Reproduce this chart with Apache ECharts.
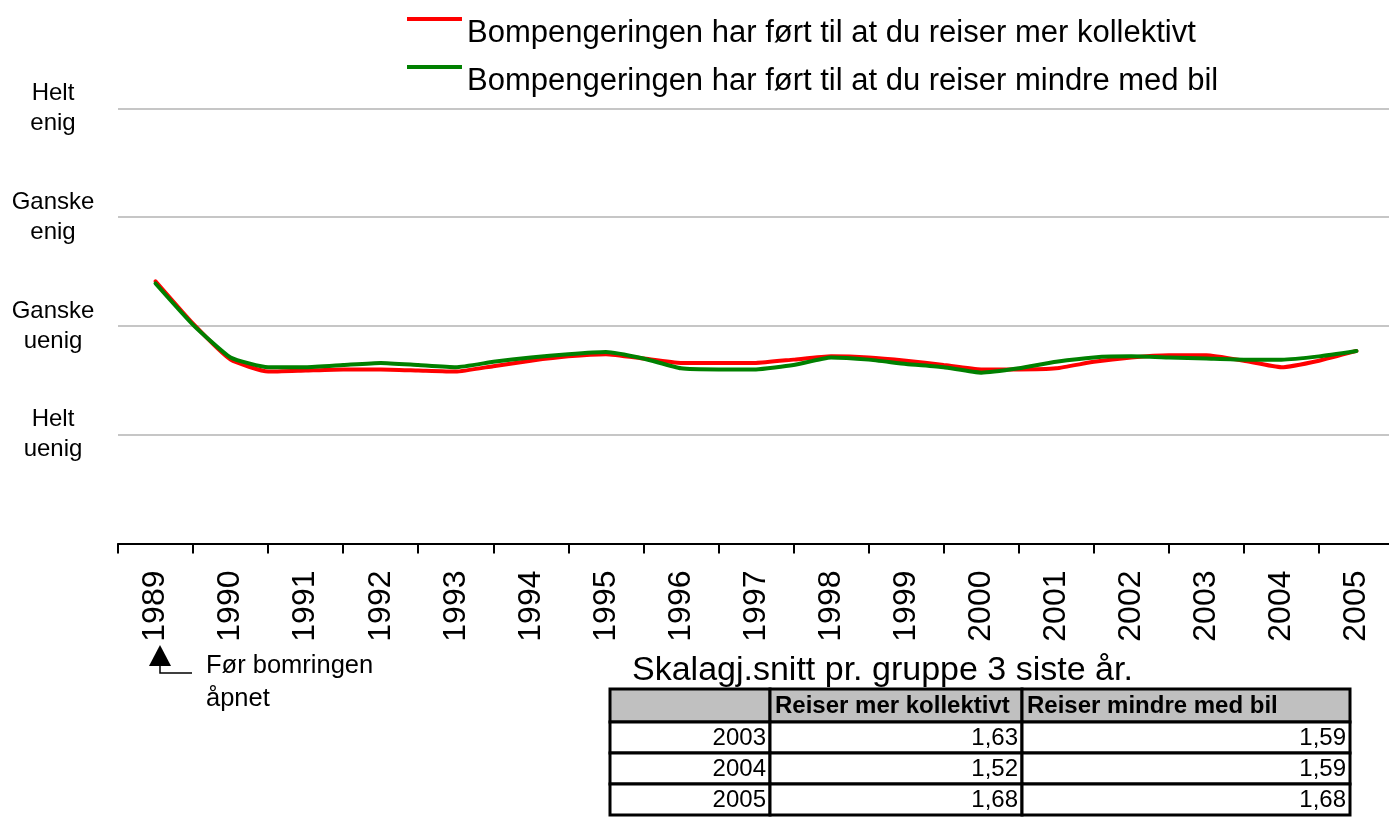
<!DOCTYPE html>
<html>
<head>
<meta charset="UTF-8">
<title>Bompengeringen</title>
<script src="https://cdn.jsdelivr.net/npm/echarts@6/dist/echarts.min.js"></script>
<style>
  html, body { margin: 0; padding: 0; background: #fff; }
  #main { width: 1389px; height: 822px; }
</style>
</head>
<body>
<div id="main"></div>
<script>
// kategorier på x-aksen
var years = ['1989', '1990', '1991', '1992', '1993', '1994', '1995', '1996', '1997',
             '1998', '1999', '2000', '2001', '2002', '2003', '2004', '2005'];
// skala: 1 = helt uenig ... 4 = helt enig
var scaleLabels = ['', 'Helt\nuenig', 'Ganske\nuenig', 'Ganske\nenig', 'Helt\nenig'];

// tidspunkt (halvår) for målepunktene
var periods = [1989.5, 1990, 1990.5, 1991, 1991.5, 1992, 1992.5, 1993, 1993.5, 1994, 1994.5,
               1995, 1995.5, 1996, 1996.5, 1997, 1997.5, 1998, 1998.5, 1999, 1999.5, 2000,
               2000.5, 2001, 2001.5, 2002, 2002.5, 2003, 2003.5, 2004, 2004.5, 2005, 2005.5];
var kollektivt = [2.41, 2.02, 1.69, 1.58, 1.59, 1.60, 1.60, 1.59, 1.58, 1.63, 1.68,
                  1.72, 1.74, 1.70, 1.66, 1.66, 1.66, 1.69, 1.72, 1.71, 1.68, 1.64,
                  1.60, 1.60, 1.61, 1.67, 1.71, 1.73, 1.73, 1.68, 1.62, 1.68, 1.77];
var mindreBil = [2.39, 2.01, 1.71, 1.62, 1.62, 1.64, 1.66, 1.64, 1.62, 1.67, 1.71,
                 1.74, 1.76, 1.70, 1.61, 1.60, 1.60, 1.64, 1.71, 1.69, 1.65, 1.62,
                 1.57, 1.61, 1.67, 1.71, 1.72, 1.71, 1.70, 1.69, 1.69, 1.72, 1.77];

var seriesNames = ['Bompengeringen har ført til at du reiser mer kollektivt',
                   'Bompengeringen har ført til at du reiser mindre med bil'];

// tabell: snitt siste 3 år
var tableTitle = 'Skalagj.snitt pr. gruppe 3 siste år.';
var tableHeader = ['', 'Reiser mer kollektivt', 'Reiser mindre med bil'];
var tableYears = ['2003', '2004', '2005'];
var tableKollektivt = ['1,63', '1,52', '1,68'];
var tableBil = ['1,59', '1,59', '1,68'];

var FONT = 'Liberation Sans, Arial, sans-serif';

function pairs(xs, ys) {
    var out = [];
    for (var i = 0; i < xs.length; i++) out.push([xs[i], ys[i]]);
    return out;
}

// tabellen tegnes som grafikk
function buildTable() {
    var colX = [610, 770, 1022, 1350];
    var top = 689, headH = 33, rowH = 31;
    var els = [];
    els.push({
        type: 'text', left: 632, top: 654,
        style: { text: tableTitle, font: '34px ' + FONT, fill: '#000' }
    });
    // header
    for (var c = 0; c < 3; c++) {
        els.push({
            type: 'rect',
            shape: { x: colX[c], y: top, width: colX[c + 1] - colX[c], height: headH },
            style: { fill: '#c0c0c0', stroke: '#000', lineWidth: 3 }
        });
        if (tableHeader[c]) {
            els.push({
                type: 'text', x: colX[c] + 5, y: top + headH / 2 + 1,
                style: { text: tableHeader[c], font: 'bold 24px ' + FONT, fill: '#000',
                         verticalAlign: 'middle', align: 'left' }
            });
        }
    }
    var cols = [tableYears, tableKollektivt, tableBil];
    for (var r = 0; r < tableYears.length; r++) {
        var y0 = top + headH + r * rowH;
        for (var c2 = 0; c2 < 3; c2++) {
            els.push({
                type: 'rect',
                shape: { x: colX[c2], y: y0, width: colX[c2 + 1] - colX[c2], height: rowH },
                style: { fill: '#fff', stroke: '#000', lineWidth: 3 }
            });
            els.push({
                type: 'text', x: colX[c2 + 1] - 4, y: y0 + rowH / 2 + 1,
                style: { text: cols[c2][r], font: '24px ' + FONT, fill: '#000',
                         verticalAlign: 'middle', align: 'right' }
            });
        }
    }
    return els;
}

var annotation = [
    { type: 'polygon', shape: { points: [[160, 645], [149, 666], [171, 666]] },
      style: { fill: '#000' } },
    { type: 'polyline', shape: { points: [[160, 666], [160, 673], [192, 673]] },
      style: { stroke: '#000', lineWidth: 1.5, fill: null } },
    { type: 'text', left: 206, top: 649,
      style: { text: 'Før bomringen\nåpnet', font: '25.5px ' + FONT, lineHeight: 33, fill: '#000' } }
];

var chart = echarts.init(document.getElementById('main'));

var option = {
    backgroundColor: '#fff',
    animation: false,
    // plottet går litt ut over høyre kant, som i originalen
    grid: { left: 118, width: 1276, top: 108.3, height: 435.2, outerBoundsMode: 'none', containLabel: false },
    legend: {
        orient: 'vertical',
        left: 407, top: 17, padding: 0,
        itemWidth: 55, itemHeight: 32, itemGap: 16,
        icon: 'path://M0,0H55V4H0Z M0,32H0.01V32.01H0Z',
        itemStyle: { borderWidth: 0 },
        textStyle: { fontSize: 31, color: '#000', fontFamily: FONT },
        data: seriesNames
    },
    xAxis: [{
        type: 'category',
        data: years,
        axisLine: { show: true, lineStyle: { color: '#000', width: 2 } },
        axisTick: { show: true, interval: 0, length: 10, lineStyle: { color: '#000', width: 2 } },
        axisLabel: { rotate: 90, interval: 0, margin: 27, fontSize: 32, color: '#000', fontFamily: FONT },
        splitLine: { show: false }
    }, {
        type: 'value', min: 1989, max: 2006, show: false
    }],
    yAxis: {
        type: 'value', min: 0, max: 4, interval: 1,
        axisLine: { show: false },
        axisTick: { show: false },
        axisLabel: {
            margin: 65, align: 'center', fontSize: 24, lineHeight: 30,
            color: '#000', fontFamily: FONT,
            formatter: function (v) { return scaleLabels[v] || ''; }
        },
        splitLine: {
            lineStyle: { color: '#c6c6c6', width: 2 },
            showMinLine: false
        }
    },
    series: [{
        name: seriesNames[0], type: 'line', xAxisIndex: 1,
        data: pairs(periods, kollektivt),
        symbol: 'none', smooth: 0.15,
        color: '#ff0000',
        lineStyle: { width: 4, color: '#ff0000', cap: 'round' }
    }, {
        name: seriesNames[1], type: 'line', xAxisIndex: 1,
        data: pairs(periods, mindreBil),
        symbol: 'none', smooth: 0.15,
        color: '#008000',
        lineStyle: { width: 4, color: '#008000', cap: 'round' }
    }],
    graphic: buildTable().concat(annotation)
};

chart.setOption(option);
</script>
</body>
</html>
